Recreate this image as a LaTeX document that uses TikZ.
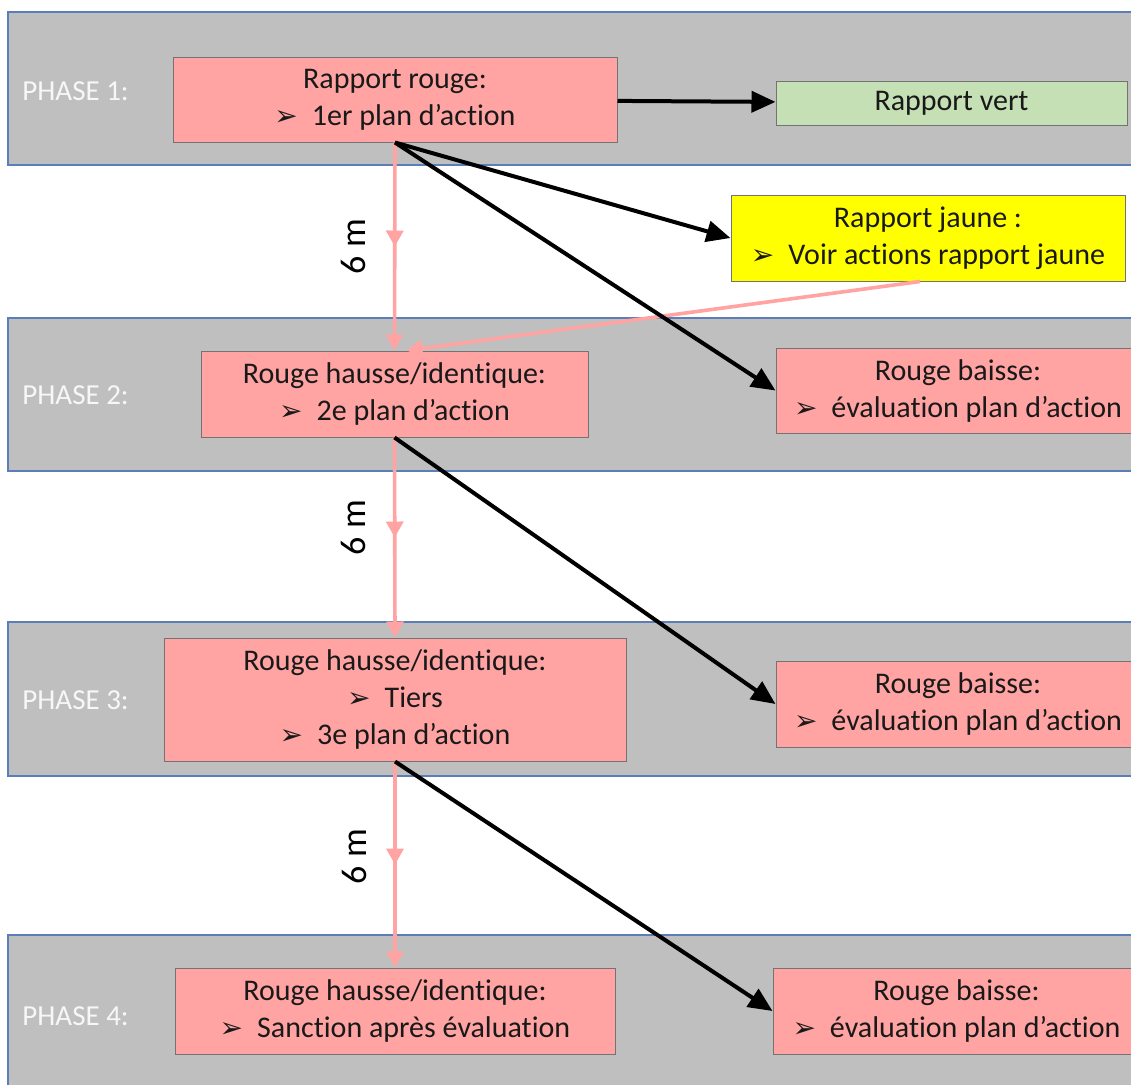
\documentclass[tikz,border=0pt]{standalone}
\usepackage{fontspec}
\setmainfont{Carlito}[Ligatures=NoCommon]
\newfontfamily\dejavu{DejaVu Sans}
\usetikzlibrary{
  arrows.meta, % for the Triangle tips
  decorations.markings % for the arrow half-way on the 6 m links
}
\definecolor{bandgray}{HTML}{BFBFBF}
\definecolor{bandline}{HTML}{5B7DB8}
\definecolor{rouge}{HTML}{FFA3A3}
\definecolor{vert}{HTML}{C5E0B4}
\definecolor{jaune}{HTML}{FFFF00}
\definecolor{fleche}{HTML}{FFA3A3}
\newcommand{\puce}{{\dejavu\fontsize{14}{14}\selectfont ➢}\hspace{7pt}}
\tikzset{
  band/.style={ % grey strip of one phase
    fill=bandgray, draw=bandline, line width=0.7pt,
  },
  phase/.style={ % label at the left of a strip
    anchor=west, inner sep=0pt,
    text=white!88!bandgray, font=\fontsize{14.5}{18}\selectfont,
  },
  box/.style={ % style for the reports
    rectangle, draw=black!55, line width=0.5pt,
    inner sep=0pt, align=center, text=black!90,
    font=\fontsize{15}{18.5}\selectfont,
  },
  rbox/.style={box, fill=rouge},
  conn/.style={ % black transitions
    -{Triangle[length=12pt,width=10.5pt]}, line width=2pt,
  },
  lien/.style={ % pink links
    draw=fleche, line width=1.8pt, -{Triangle[length=8pt,width=8.5pt]},
  },
  delai/.style={ % pink links after 6 months
    lien, postaction=decorate,
    decoration={markings, mark=at position 0.5 with {\arrow{Triangle[length=8pt,width=8.5pt]}}},
  },
  delaitxt/.style={font=\fontsize{18}{18}\selectfont, inner sep=0pt},
}
\begin{document}
\begin{tikzpicture}[x=0.5pt, y=-0.5pt]
  \clip (0,0) rectangle (1131,1084);
  \fill[white] (0,0) rectangle (1131,1084);
  % phases
  \draw[band] (8,12) rectangle (1145,165);
  \draw[band] (8,318) rectangle (1145,471);
  \draw[band] (8,622) rectangle (1145,776);
  \draw[band] (8,935) rectangle (1145,1100);
  \node[phase] (p1) at (22,91) {PHASE 1:};
  \node[phase] (p2) at (22,395) {PHASE 2:};
  \node[phase] (p3) at (22,700) {PHASE 3:};
  \node[phase] (p4) at (22,1016) {PHASE 4:};
  % reports
  \node[rbox, minimum width=222pt, minimum height=42.5pt] (r1) at (395,99.5)
    {Rapport rouge:\\ \puce 1er plan d’action};
  \node[box, fill=vert, minimum width=175.5pt, minimum height=22pt] (vert) at (951.5,103)
    {Rapport vert};
  \node[box, fill=jaune, minimum width=197pt, minimum height=43pt] (jaune) at (928,238)
    {Rapport jaune :\\ \puce Voir actions rapport jaune};
  \node[rbox, minimum width=193.5pt, minimum height=43pt] (r2) at (394.5,394)
    {Rouge hausse/identique:\\ \puce 2e plan d’action};
  \node[rbox, minimum width=182pt, minimum height=42.5pt] (b2) at (958,390.5)
    {Rouge baisse:\\ \puce évaluation plan d’action};
  \node[rbox, minimum width=231pt, minimum height=61.5pt] (r3) at (395,699.5)
    {Rouge hausse/identique:\\ \puce Tiers\\ \puce 3e plan d’action};
  \node[rbox, minimum width=182pt, minimum height=43pt] (b3) at (958,704)
    {Rouge baisse:\\ \puce évaluation plan d’action};
  \node[rbox, minimum width=220pt, minimum height=43pt] (r4) at (395,1011)
    {Rouge hausse/identique:\\ \puce Sanction après évaluation};
  \node[rbox, minimum width=183.5pt, minimum height=43pt] (b4) at (956.5,1011)
    {Rouge baisse:\\ \puce évaluation plan d’action};
  % links
  \draw[delai] (r1.south) -- node[delaitxt, midway, xshift=-20.5pt, rotate=90] (m1) {6 m} (r2.north);
  \draw[delai] (r2.south) -- node[delaitxt, midway, xshift=-20.5pt, yshift=5pt, rotate=90] (m2) {6 m} (r3.north);
  \draw[delai] (r3.south) -- node[delaitxt, midway, xshift=-20.5pt, yshift=4pt, rotate=90] (m3) {6 m} (r4.north);
  \draw[lien] ([xshift=-4pt]jaune.south) -- ([xshift=6pt]r2.north);
  \draw[conn] (r1) -- (vert);
  \draw[conn] (r1.south) -- (jaune.west);
  \draw[conn] (r1.south) -- (b2.west);
  \draw[conn] (r2.south) -- (b3.west);
  \draw[conn] (r3.south) -- (b4.west);
\end{tikzpicture}
\end{document}
